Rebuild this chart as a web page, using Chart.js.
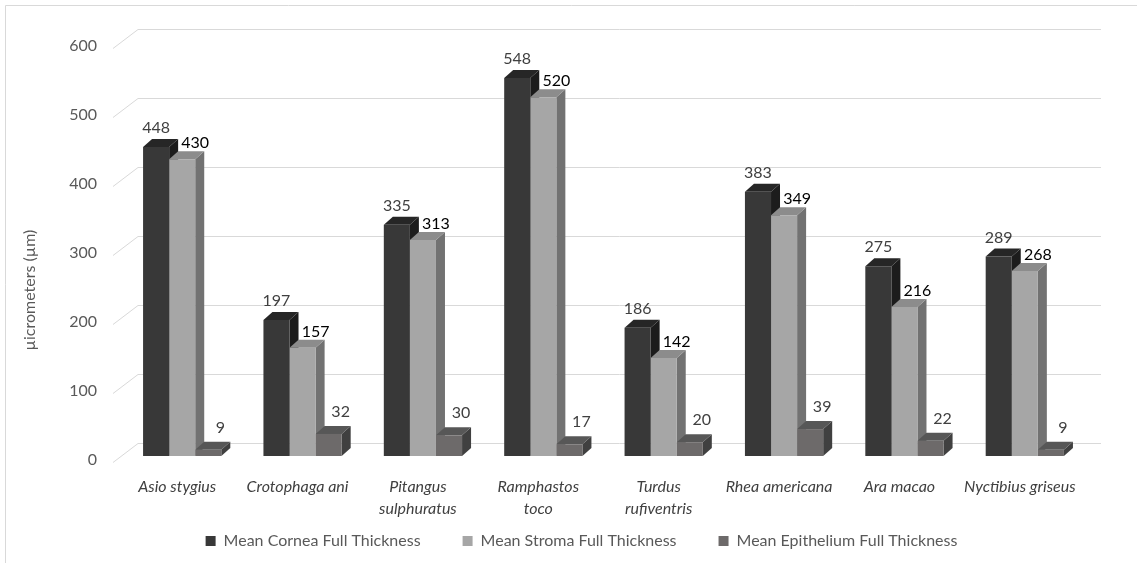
<!DOCTYPE html>
<html>
<head>
<meta charset="utf-8">
<title>Corneal thickness by species</title>
<script src="https://cdn.jsdelivr.net/npm/chart.js@4.4.1/dist/chart.umd.min.js"></script>
<style>
  html, body { margin: 0; padding: 0; background: #ffffff; }
  #wrap { width: 1137px; height: 563px; }
</style>
</head>
<body>
<div id="wrap"><canvas id="chart" width="1137" height="563"></canvas></div>
<script>
// Species (x categories); multi-word names are split over two lines where needed
const species = [
  'Asio stygius',
  'Crotophaga ani',
  ['Pitangus', 'sulphuratus'],
  ['Ramphastos', 'toco'],
  ['Turdus', 'rufiventris'],
  'Rhea americana',
  'Ara macao',
  'Nyctibius griseus'
];

// Mean thickness values, in micrometers
const corneaThickness     = [448, 197, 335, 548, 186, 383, 275, 289];
const stromaThickness     = [430, 157, 313, 520, 142, 349, 216, 268];
const epitheliumThickness = [9, 32, 30, 17, 20, 39, 22, 9];

const seriesNames = [
  'Mean Cornea Full Thickness',
  'Mean Stroma Full Thickness',
  'Mean Epithelium Full Thickness'
];

const yTicks = [0, 100, 200, 300, 400, 500, 600];
const yTitle = 'µicrometers (µm)';

// Shading for each series: front face, top face, side face
const faceColors = [
  { front: '#383838', top: '#262626', side: '#1c1c1c' },
  { front: '#a6a6a6', top: '#8c8c8c', side: '#727272' },
  { front: '#6d6a6a', top: '#575757', side: '#404040' }
];

const FONT = 'Lato, "Open Sans", sans-serif';

// depth of each bar block
const DX = 9, DY = 8;
// offset of the back wall relative to the bar plane
const WALL_X = 16, WALL_Y = 13;
// offset of the front axis edge relative to the bar plane
const AXIS_X = -9, AXIS_Y = 6;
// vertical centre of the legend row
const LEGEND_CENTER_Y = 541;

// Frame, axis title, back-wall gridlines, and the side/top faces of every bar block
const threeD = {
  id: 'threeD',
  afterLayout(chart) {
    // the legend row sits just under the category labels
    const lg = chart.legend;
    if (!lg) return;
    const pad = lg.options.labels.padding;
    const itemH = 16;
    lg.top = LEGEND_CENTER_Y - itemH / 2 - pad;
    lg.bottom = chart.height;
    lg.height = lg.bottom - lg.top;
  },
  beforeDraw(chart) {
    const ctx = chart.ctx;
    ctx.save();
    ctx.fillStyle = '#ffffff';
    ctx.fillRect(0, 0, chart.width, chart.height);
    ctx.strokeStyle = '#d9d9d9';
    ctx.lineWidth = 1;
    ctx.beginPath();
    ctx.moveTo(5.5, chart.height);
    ctx.lineTo(5.5, 5.5);
    ctx.lineTo(chart.width, 5.5);
    ctx.stroke();
    // vertical axis title
    ctx.translate(30, 290);
    ctx.rotate(-Math.PI / 2);
    ctx.font = '16px ' + FONT;
    ctx.fillStyle = '#595959';
    ctx.textAlign = 'center';
    ctx.textBaseline = 'middle';
    ctx.fillText(yTitle, 0, 0);
    ctx.restore();
  },
  beforeDatasetsDraw(chart) {
    const { ctx, chartArea: a } = chart;
    const y = chart.scales.y;
    ctx.save();
    ctx.strokeStyle = '#d9d9d9';
    ctx.lineWidth = 1;
    y.ticks.forEach(t => {
      const py = Math.round(y.getPixelForValue(t.value)) + 0.5;
      ctx.beginPath();
      ctx.moveTo(a.left + AXIS_X, py + AXIS_Y);
      ctx.lineTo(a.left + WALL_X, py - WALL_Y);
      ctx.lineTo(a.right + WALL_X, py - WALL_Y);
      ctx.stroke();
    });
    const n = chart.data.labels.length;
    const nd = chart.data.datasets.length;
    for (let i = 0; i < n; i++) {
      for (let d = 0; d < nd; d++) {
        const el = chart.getDatasetMeta(d).data[i];
        const p = el.getProps(['x', 'y', 'base', 'width'], true);
        const l = p.x - p.width / 2, r = p.x + p.width / 2;
        const top = p.y, base = p.base;
        ctx.fillStyle = faceColors[d].side;
        ctx.beginPath();
        ctx.moveTo(r, base);
        ctx.lineTo(r + DX, base - DY);
        ctx.lineTo(r + DX, top - DY);
        ctx.lineTo(r, top);
        ctx.closePath();
        ctx.fill();
        ctx.fillStyle = faceColors[d].top;
        ctx.beginPath();
        ctx.moveTo(l, top);
        ctx.lineTo(l + DX, top - DY);
        ctx.lineTo(r + DX, top - DY);
        ctx.lineTo(r, top);
        ctx.closePath();
        ctx.fill();
      }
    }
    ctx.restore();
  },
  // value labels above each bar
  afterDatasetsDraw(chart) {
    const ctx = chart.ctx;
    const styles = [
      { dx: 0,  dy: -19, color: '#404040' },
      { dx: 13, dy: -16, color: '#000000' },
      { dx: 12, dy: -22, color: '#404040' }
    ];
    ctx.save();
    ctx.font = '16px ' + FONT;
    ctx.textAlign = 'center';
    ctx.textBaseline = 'middle';
    chart.data.datasets.forEach((ds, d) => {
      chart.getDatasetMeta(d).data.forEach((el, i) => {
        const p = el.getProps(['x', 'y'], true);
        ctx.fillStyle = styles[d].color;
        ctx.fillText(String(ds.data[i]), p.x + styles[d].dx, p.y + styles[d].dy);
      });
    });
    ctx.restore();
  }
};

const seriesValues = [corneaThickness, stromaThickness, epitheliumThickness];

new Chart(document.getElementById('chart'), {
  type: 'bar',
  data: {
    labels: species,
    datasets: seriesValues.map((vals, d) => ({
      label: seriesNames[d],
      data: vals,
      backgroundColor: faceColors[d].front,
      borderWidth: 0,
      categoryPercentage: 0.65,
      barPercentage: 1.0
    }))
  },
  options: {
    responsive: false,
    devicePixelRatio: 1,
    animation: false,
    events: [],
    layout: { padding: { left: 26, right: 0, top: 42, bottom: 13 } },
    scales: {
      x: {
        grid: { display: false, drawTicks: false },
        border: { display: false },
        ticks: {
          color: '#404040',
          padding: 20,
          labelOffset: -5,
          maxRotation: 0,
          autoSkip: false,
          font: { family: FONT, size: 16, style: 'italic', lineHeight: 1.375 }
        },
        afterFit(scale) { scale.height = 64; }
      },
      y: {
        min: 0,
        max: 600,
        afterBuildTicks(scale) { scale.ticks = yTicks.map(v => ({ value: v })); },
        grid: { display: false, drawTicks: false },
        border: { display: false },
        ticks: {
          color: '#595959',
          padding: 25,
          labelOffset: 4,
          font: { family: FONT, size: 16 }
        },
        afterFit(scale) { scale.width = 96; }
      },
      yRight: {
        position: 'right',
        display: true,
        grid: { display: false, drawTicks: false },
        border: { display: false },
        ticks: { display: false },
        afterFit(scale) { scale.width = 52; }
      }
    },
    plugins: {
      legend: {
        position: 'bottom',
        maxHeight: 30,
        labels: {
          color: '#595959',
          boxWidth: 10,
          boxHeight: 10,
          padding: 42,
          font: { family: FONT, size: 16 }
        }
      },
      tooltip: { enabled: false }
    }
  },
  plugins: [threeD]
});
</script>
</body>
</html>
